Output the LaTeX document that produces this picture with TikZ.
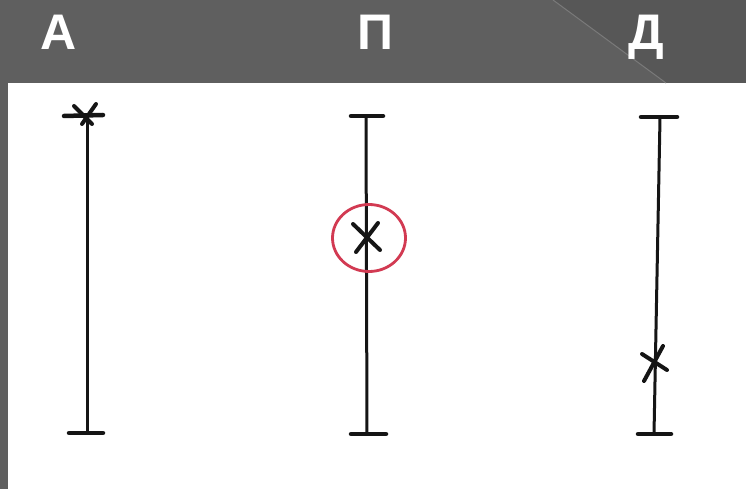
\documentclass[tikz,border=0pt]{standalone}
\usepackage{fontspec}
\setmainfont{Liberation Sans}
\usetikzlibrary{shapes.geometric}
\definecolor{hdrL}{HTML}{5F5F5F}
\definecolor{hdrR}{HTML}{575757}
\definecolor{hdrLine}{HTML}{7A7A7A}
\definecolor{ink}{HTML}{151515}
\definecolor{ringred}{HTML}{D23A52}
\begin{document}
\begin{tikzpicture}[x=1pt,y=-1pt,
  letter/.style={text=white,font=\bfseries\fontsize{50}{50}\selectfont,anchor=base,inner sep=0pt},
  stem/.style={draw=ink,line width=3pt,line cap=round},
  bar/.style={draw=ink,line width=4.5pt,line cap=round},
  cross/.style={draw=ink,line width=4pt,line cap=round},
  ring/.style={draw=ringred,line width=2.8pt}]
\useasboundingbox (0,0) rectangle (746,489);
% header and frame
\fill[hdrL] (0,0) rectangle (746,489);
\fill[white] (8,83) rectangle (746,489);
\fill[hdrR] (553,0) -- (666,83) -- (746,83) -- (746,0) -- cycle;
\draw[hdrLine,line width=1pt] (553,0) -- (666,83);
% letters
\node[letter] (la) at (59,50) {А};
\node[letter] (lp) at (375,50) {П};
\node[letter] (ld) at (646,50) {Д};
% A
\coordinate (a1) at (87,116); \coordinate (a2) at (87,433);
\draw[stem] (a1) -- (a2);
\draw[bar] (64,116) -- (103,115);
\draw[bar] (69,433) -- (103,433);
\draw[cross] (74,106) -- (92,124);
\draw[cross] (96,104) -- (82,124);
% P
\coordinate (p1) at (366,116); \coordinate (p2) at (367,434);
\draw[stem] (p1) -- (p2);
\draw[bar] (351,116) -- (383,116);
\draw[bar] (351,434) -- (386,434);
\node[ring,ellipse,minimum width=73pt,minimum height=67pt,inner sep=0pt] (ring) at (369,238) {};
\draw[cross] (353,224) -- (380,250);
\draw[cross] (378,223) -- (356,252);
% D
\coordinate (d1) at (660,118); \coordinate (d2) at (654,434);
\draw[stem] (d1) -- (d2);
\draw[bar] (641,117) -- (677,117);
\draw[bar] (638,434) -- (671,434);
\draw[cross] (642,354) -- (667,370);
\draw[cross] (663,346) -- (644,381);
\end{tikzpicture}
\end{document}
